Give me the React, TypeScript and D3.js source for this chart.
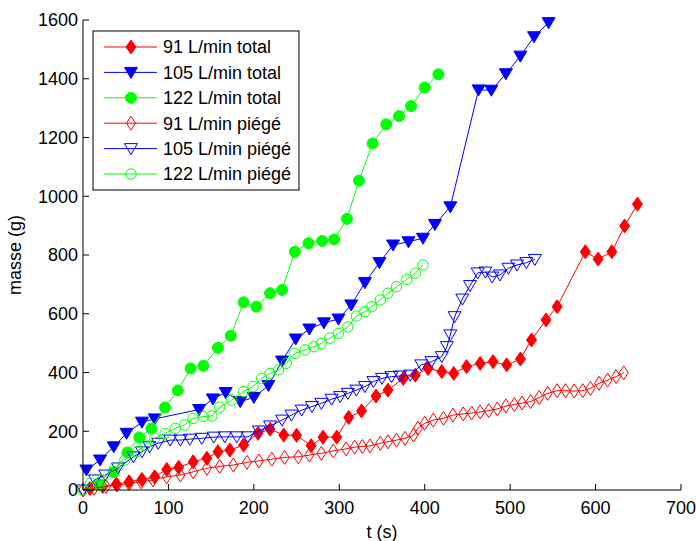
import React from "react";
import * as d3 from "d3";

const t91Total = [8, 23, 39, 54, 69, 84, 98, 112, 129, 145, 158, 172, 188, 205, 219, 235, 250, 267, 281, 297, 311, 326, 343, 357, 375, 389, 404, 420, 434, 449, 465, 480, 496, 512, 525, 542, 555, 588, 603, 619, 634, 649];
const m91Total = [5, 12, 20, 28, 36, 45, 70, 77, 96, 108, 130, 136, 153, 193, 207, 187, 186, 151, 180, 180, 247, 269, 320, 340, 380, 391, 414, 403, 397, 420, 431, 437, 426, 446, 511, 579, 624, 811, 786, 811, 899, 973];

const t105Total = [4, 20, 36, 51, 69, 84, 136, 152, 167, 184, 200, 217, 233, 249, 265, 282, 299, 314, 330, 347, 363, 381, 398, 412, 430, 463, 478, 495, 512, 528, 545];
const m105Total = [68, 102, 147, 193, 231, 242, 274, 310, 332, 301, 315, 356, 439, 514, 548, 569, 582, 630, 706, 774, 834, 845, 857, 904, 964, 1362, 1361, 1417, 1477, 1543, 1591];

const t122Total = [20, 36, 52, 66, 80, 96, 111, 126, 141, 158, 173, 188, 203, 219, 233, 248, 264, 280, 294, 309, 323, 339, 355, 370, 384, 400, 416];
const m122Total = [17, 61, 128, 179, 209, 281, 339, 414, 423, 484, 525, 639, 624, 670, 681, 811, 840, 848, 853, 923, 1053, 1180, 1245, 1273, 1307, 1370, 1415];

const t91Trap = [0, 13, 27, 40, 54, 68, 82, 98, 114, 129, 145, 160, 176, 192, 206, 221, 236, 252, 265, 279, 293, 308, 318, 327, 336, 348, 357, 367, 377, 387, 392, 400, 410, 422, 433, 445, 455, 465, 475, 485, 495, 505, 514, 524, 534, 544, 555, 565, 575, 585, 594, 604, 614, 624, 633];
const m91Trap = [0, 6, 12, 17, 22, 28, 34, 45, 51, 62, 74, 80, 85, 94, 99, 105, 111, 113, 119, 125, 133, 140, 146, 148, 150, 159, 164, 170, 176, 187, 210, 227, 238, 244, 255, 259, 262, 266, 270, 276, 286, 291, 296, 301, 315, 329, 338, 338, 337, 338, 346, 363, 374, 386, 399];

const t105Trap = [0, 14, 26, 41, 59, 69, 78, 88, 102, 114, 125, 139, 153, 166, 180, 193, 206, 219, 233, 244, 256, 268, 279, 291, 301, 310, 320, 330, 340, 350, 361, 371, 383, 396, 408, 420, 426, 430, 435, 444, 453, 462, 471, 479, 488, 498, 508, 519, 529];
const m105Trap = [0, 34, 51, 75, 113, 130, 147, 159, 170, 170, 173, 176, 180, 181, 181, 181, 201, 218, 238, 255, 272, 284, 295, 309, 318, 329, 340, 352, 369, 380, 386, 388, 391, 426, 437, 454, 488, 528, 590, 650, 696, 739, 742, 725, 732, 755, 766, 774, 785];

const t122Trap = [0, 9, 22, 37, 49, 63, 73, 84, 96, 108, 119, 129, 141, 151, 160, 174, 188, 199, 209, 219, 229, 238, 248, 260, 270, 279, 289, 299, 310, 320, 330, 338, 348, 357, 367, 379, 389, 398];
const m122Trap = [0, 24, 34, 74, 102, 130, 153, 176, 193, 210, 221, 244, 250, 252, 282, 306, 335, 352, 380, 397, 409, 431, 465, 477, 488, 499, 517, 533, 555, 592, 607, 624, 647, 670, 692, 717, 738, 766];

const xTicks = [0, 100, 200, 300, 400, 500, 600, 700];
const yTicks = [0, 200, 400, 600, 800, 1000, 1200, 1400, 1600];

const seriesNames = ["91 L/min total", "105 L/min total", "122 L/min total", "91 L/min piégé", "105 L/min piégé", "122 L/min piégé"];

type Marker = "diamond" | "triangle" | "circle";
interface Series { name: string; t: number[]; m: number[]; color: string; marker: Marker; filled: boolean; }

const series: Series[] = [
  { name: seriesNames[0], t: t91Total, m: m91Total, color: "#ff0000", marker: "diamond", filled: true },
  { name: seriesNames[1], t: t105Total, m: m105Total, color: "#0000ff", marker: "triangle", filled: true },
  { name: seriesNames[2], t: t122Total, m: m122Total, color: "#00ff00", marker: "circle", filled: true },
  { name: seriesNames[3], t: t91Trap, m: m91Trap, color: "#ff0000", marker: "diamond", filled: false },
  { name: seriesNames[4], t: t105Trap, m: m105Trap, color: "#0000ff", marker: "triangle", filled: false },
  { name: seriesNames[5], t: t122Trap, m: m122Trap, color: "#00ff00", marker: "circle", filled: false },
];

const FONT = "'Liberation Sans', Arial, Helvetica, sans-serif";

function markerPath(kind: Marker, filled: boolean): string {
  if (kind === "diamond") return filled ? "M0,-7L5,0L0,7L-5,0Z" : "M0,-7L4.5,0L0,7L-4.5,0Z";
  if (kind === "triangle") return "M-6.5,-5L6.5,-5L0,6Z";
  const p = d3.path();
  p.arc(0, 0, filled ? 5.5 : 5.2, 0, Math.PI * 2);
  p.closePath();
  return p.toString();
}

export default function App() {
  const W = 696, H = 541;
  const x = d3.scaleLinear().domain([0, 700]).range([83, 681]);
  const y = d3.scaleLinear().domain([0, 1600]).range([490, 20]);
  const line = d3.line<[number, number]>().x(d => x(d[0])).y(d => y(d[1]));

  const legendX = 93, legendY = 31, legendW = 206, legendH = 159;
  const rowY = (i: number) => 47 + i * 25.4;
  const FS = 18;

  return (
    <svg width={W} height={H} style={{ position: "absolute", left: 0, top: 0, background: "#fff" }} fontFamily={FONT}>
      <rect x={0} y={0} width={W} height={H} fill="#fff" />
      {series.map((s, si) => {
        const pts: [number, number][] = s.t.map((t, i) => [t, s.m[i]]);
        const d = markerPath(s.marker, s.filled);
        return (
          <g key={si}>
            <path d={line(pts) || ""} fill="none" stroke={s.color} strokeWidth={1} />
            {pts.map((p, i) => (
              <path key={i} d={d} transform={`translate(${x(p[0])},${y(p[1])})`}
                fill={s.filled ? s.color : "none"} stroke={s.color} strokeWidth={1} />
            ))}
          </g>
        );
      })}
      {/* axes */}
      <line x1={83} x2={83} y1={y(1600)} y2={y(0)} stroke="#000" strokeWidth={1} />
      <line x1={x(0)} x2={x(700)} y1={490} y2={490} stroke="#000" strokeWidth={1} />
      {yTicks.map(v => (
        <g key={"y" + v}>
          <line x1={83} x2={89} y1={y(v)} y2={y(v)} stroke="#000" />
          <text x={78} y={y(v)} dy="0.35em" textAnchor="end" fontSize={FS} fill="#000">{v}</text>
        </g>
      ))}
      {xTicks.map(v => (
        <g key={"x" + v}>
          <line x1={x(v)} x2={x(v)} y1={490} y2={484} stroke="#000" />
          <text x={x(v)} y={514} textAnchor="middle" fontSize={FS} fill="#000">{v}</text>
        </g>
      ))}
      <text x={x(350)} y={538} textAnchor="middle" fontSize={FS} fill="#000">t (s)</text>
      <text transform={`translate(21,${y(800)}) rotate(-90)`} textAnchor="middle" fontSize={FS} fill="#000">masse (g)</text>
      {/* legend */}
      <rect x={legendX} y={legendY} width={legendW} height={legendH} fill="#fff" stroke="#000" strokeWidth={1} />
      {series.map((s, i) => (
        <g key={"l" + i} transform={`translate(0,${rowY(i)})`}>
          <line x1={104} x2={157} y1={0} y2={0} stroke={s.color} strokeWidth={1} />
          <path d={markerPath(s.marker, s.filled)} transform="translate(131,0)" fill={s.filled ? s.color : "none"} stroke={s.color} />
          <text x={163} y={0} dy="0.35em" fontSize={FS} fill="#000">{s.name}</text>
        </g>
      ))}
    </svg>
  );
}
